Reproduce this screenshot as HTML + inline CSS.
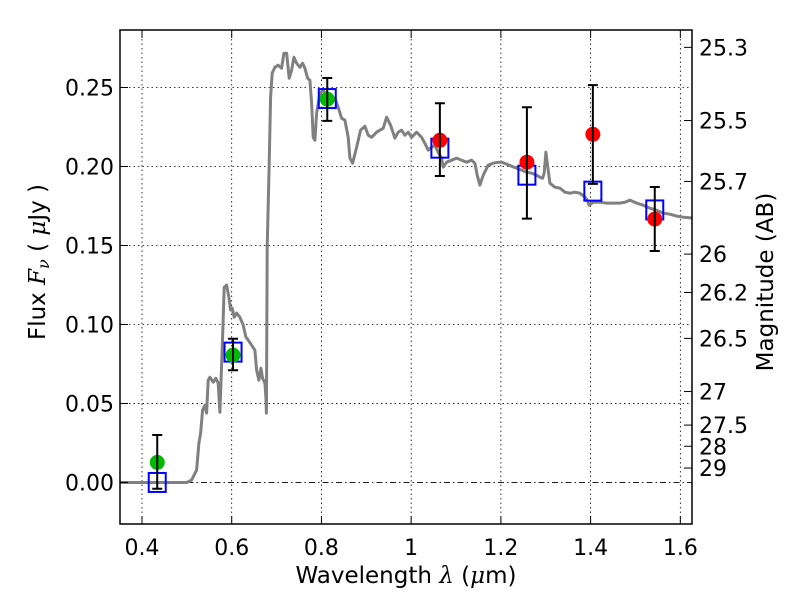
<!DOCTYPE html>
<html><head><meta charset="utf-8">
<style>
html,body{margin:0;padding:0;background:#fff;}
svg{display:block;font-family:"DejaVu Sans","Liberation Sans",sans-serif;}
</style></head>
<body>
<svg id="chart" width="800" height="600" viewBox="0 0 800 600">
<defs><clipPath id="clip"><rect x="120" y="30" width="572" height="494"/></clipPath></defs>
<rect x="0" y="0" width="800" height="600" fill="#fff"/>
<g id="grid"></g>
<g id="spec" clip-path="url(#clip)"></g>
<g id="marks"></g>
<rect x="120" y="30" width="572" height="494" fill="none" stroke="#000" stroke-width="1.5"/>
<g id="axes"></g>
<text x="406" y="583" text-anchor="middle" font-size="23">Wavelength  <tspan font-family="'DejaVu Serif',serif" font-style="italic">λ</tspan> (<tspan font-family="'DejaVu Serif',serif" font-style="italic">μ</tspan>m)</text>
<text transform="translate(45,262) rotate(-90)" text-anchor="middle" font-size="23">Flux  <tspan font-family="'DejaVu Serif',serif" font-style="italic">F<tspan font-size="16" dy="4">ν</tspan></tspan><tspan dy="-4">  (  </tspan><tspan font-family="'DejaVu Serif',serif" font-style="italic">μ</tspan>Jy )</text>
<text transform="translate(773,282) rotate(-90)" text-anchor="middle" font-size="23">Magnitude (AB)</text>
</svg>
<script>
const specLam = [0.35,0.4994,0.5106,0.5217,0.5268,0.5306,0.5351,0.5402,0.5440,0.5476,0.5514,0.5587,0.5647,0.5699,0.5737,0.5797,0.5832,0.5886,0.5937,0.5975,0.6011,0.6055,0.6109,0.6182,0.6256,0.6316,0.6367,0.6443,0.6517,0.6555,0.6606,0.6651,0.6688,0.6740,0.6762,0.6773,0.6791,0.6835,0.6867,0.6902,0.6963,0.7036,0.7112,0.7163,0.7223,0.7281,0.7335,0.7386,0.7446,0.7520,0.7580,0.7631,0.7692,0.7743,0.7781,0.7816,0.7854,0.7892,0.7966,0.8039,0.8151,0.8227,0.8300,0.8374,0.8449,0.8523,0.8597,0.8634,0.8694,0.8784,0.8873,0.8969,0.9042,0.9118,0.9230,0.9303,0.9377,0.9453,0.9542,0.9638,0.9711,0.9787,0.9860,0.9934,1.0010,1.0121,1.0232,1.0306,1.0380,1.0456,1.0529,1.0603,1.0679,1.0715,1.0790,1.0902,1.1013,1.1125,1.1236,1.1347,1.1421,1.1472,1.1532,1.1606,1.1717,1.1829,1.1940,1.2016,1.2128,1.2239,1.2351,1.2462,1.2573,1.2685,1.2796,1.2870,1.2930,1.2966,1.3004,1.3093,1.3205,1.3316,1.3427,1.3539,1.3650,1.3762,1.3873,1.3924,1.3969,1.4058,1.4207,1.4357,1.4504,1.4653,1.4765,1.4876,1.5025,1.5173,1.5322,1.5471,1.5619,1.5768,1.5917,1.6065,1.630];
const specFlux = [0,0,0.0015,0.0078,0.0249,0.0312,0.0458,0.0489,0.0439,0.0647,0.0666,0.0635,0.0660,0.0628,0.0445,0.0920,0.1236,0.1249,0.1173,0.1091,0.1103,0.1046,0.1072,0.1046,0.0996,0.0920,0.0901,0.0869,0.0837,0.0711,0.0647,0.0723,0.0660,0.0628,0.0540,0.0439,0.1489,0.2021,0.2439,0.2591,0.2628,0.2641,0.2622,0.2717,0.2717,0.2559,0.2609,0.2692,0.2654,0.2628,0.2654,0.2622,0.2559,0.2546,0.2401,0.2185,0.2166,0.2337,0.2464,0.2483,0.2439,0.2420,0.2432,0.2375,0.2306,0.2293,0.2185,0.2053,0.2021,0.2122,0.2230,0.2255,0.2198,0.2185,0.2217,0.2230,0.2242,0.2312,0.2261,0.2179,0.2217,0.2230,0.2198,0.2217,0.2185,0.2217,0.2185,0.2147,0.2103,0.2122,0.2135,0.2090,0.2053,0.1996,0.2027,0.2040,0.2053,0.2040,0.2027,0.2040,0.2021,0.1945,0.1882,0.1945,0.2008,0.2021,0.2027,0.2027,0.2015,0.2002,0.1989,0.1977,0.1964,0.1958,0.1945,0.1932,0.1926,0.1958,0.2090,0.1894,0.1869,0.1863,0.1837,0.1831,0.1837,0.1831,0.1806,0.1787,0.1755,0.1774,0.1774,0.1768,0.1768,0.1768,0.1774,0.1787,0.1768,0.1755,0.1736,0.1723,0.1705,0.1698,0.1686,0.1679,0.1673,0.1660];
const bandLam = [0.434,0.603,0.813,1.064,1.258,1.405,1.543];
const obsFlux = [0.0127,0.0806,0.2426,0.2166,0.2027,0.2204,0.1667];
const obsErrHi = [0.030,0.091,0.256,0.240,0.2375,0.2515,0.187];
const obsErrLo = [-0.004,0.071,0.2289,0.194,0.167,0.189,0.1465];
const obsColor = ['#00bb00','#00bb00','#00bb00','#ff0000','#ff0000','#ff0000','#ff0000'];
const modelFlux = [0.0,0.0825,0.243,0.2116,0.1945,0.1844,0.1725];
const xTicks = [0.4,0.6,0.8,1.0,1.2,1.4,1.6];
const xTickLabels = ['0.4','0.6','0.8','1','1.2','1.4','1.6'];
const yTicks = [0,0.05,0.10,0.15,0.20,0.25];
const yTickLabels = ['0.00','0.05','0.10','0.15','0.20','0.25'];
const magTicks = [25.3,25.5,25.7,26,26.2,26.5,27,27.5,28,29];
const magTickLabels = ['25.3','25.5','25.7','26','26.2','26.5','27','27.5','28','29'];

const X0=120,X1=692,Y0=524,Y1=30, XMIN=0.351,XMAX=1.626, YMIN=-0.0263,YMAX=0.2864;
const sx = v => X0 + (v-XMIN)/(XMAX-XMIN)*(X1-X0);
const sy = v => Y0 - (v-YMIN)/(YMAX-YMIN)*(Y0-Y1);
const NS='http://www.w3.org/2000/svg';
function mk(tag, attrs, parent){const e=document.createElementNS(NS,tag);for(const k in attrs)e.setAttribute(k,attrs[k]);parent.appendChild(e);return e;}
const grid=document.getElementById('grid'), axes=document.getElementById('axes'), spec=document.getElementById('spec'), marks=document.getElementById('marks');

xTicks.forEach((v,i)=>{
  const x=sx(v);
  const g=mk('line',{x1:x,x2:x,y1:Y1,y2:Y0,stroke:'#000','stroke-width':0.8,'stroke-dasharray':'1.5,3'},grid);
  
  
  const t1=mk('line',{x1:x,x2:x,y1:Y0,y2:Y0-8,stroke:'#000','stroke-width':1},axes);
  
  
  mk('line',{x1:x,x2:x,y1:Y1,y2:Y1+8,stroke:'#000','stroke-width':1},axes);
  const t=mk('text',{x:x,y:Y0+31,'text-anchor':'middle','font-size':22},axes);
  t.textContent=xTickLabels[i];
  
  
});
yTicks.forEach((v,i)=>{
  const y=sy(v);
  const g=mk('line',{x1:X0,x2:X1,y1:y,y2:y,stroke:'#000','stroke-width':0.8,'stroke-dasharray':v===0?'6,3,1.5,3':'1.5,3'},grid);
  
  
  const tk=mk('line',{x1:X0,x2:X0+8,y1:y,y2:y,stroke:'#000','stroke-width':1},axes);
  
  
  const t=mk('text',{x:X0-6,y:y+8,'text-anchor':'end','font-size':22},axes);
  t.textContent=yTickLabels[i];
  
  
});
magTicks.forEach((m,i)=>{
  const f=Math.pow(10,(23.9-m)/2.5);
  const y=sy(f);
  const tk=mk('line',{x1:X1-8,x2:X1,y1:y,y2:y,stroke:'#000','stroke-width':1},axes);
  
  
  const t=mk('text',{x:X1+7,y:y+8,'font-size':22},axes);
  t.textContent=magTickLabels[i];
  
  
});
const pts=specLam.map((l,i)=>sx(l).toFixed(1)+','+sy(specFlux[i]).toFixed(1)).join(' ');
const pl=mk('polyline',{points:pts,fill:'none',stroke:'#808080','stroke-width':3,'stroke-linejoin':'round'},spec);



bandLam.forEach((l,i)=>{
  const x=sx(l);
  const sq=mk('rect',{x:x-8.5,y:sy(modelFlux[i])-9.5,width:17,height:19,fill:'none',stroke:'#0000ff','stroke-width':2},marks);
  
  
  const c=mk('circle',{cx:x,cy:sy(obsFlux[i]),r:7.5,fill:obsColor[i]},marks);
  
  
  const yh=sy(obsErrHi[i]), yl=sy(obsErrLo[i]);
  const e=mk('path',{d:`M${x},${yh}V${yl}M${x-5},${yh}H${x+5}M${x-5},${yl}H${x+5}`,stroke:'#000','stroke-width':2,fill:'none'},marks);
  
  
});
</script>
</body></html>
